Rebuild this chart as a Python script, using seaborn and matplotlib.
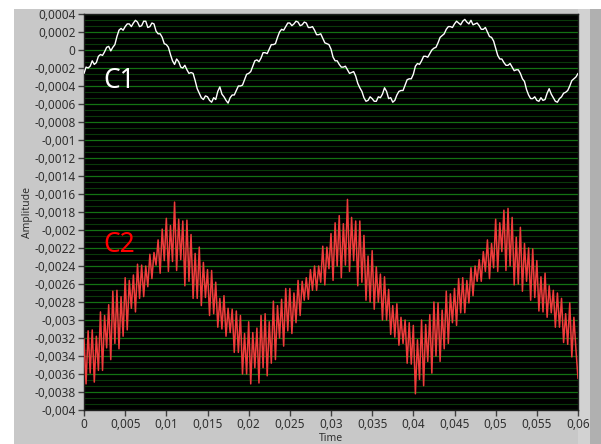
import numpy as np
import pandas as pd
import matplotlib
matplotlib.use("Agg")
import matplotlib.pyplot as plt
from matplotlib.patches import Rectangle
from matplotlib.ticker import MultipleLocator, FixedLocator
import seaborn as sns

# ---------------- data ----------------
# C1 amplitude in units of 1e-4, sampled every 0.25 ms from 0 to 60 ms
c1_e4 = [
    -2.6, -1.9, -2.0, -1.8, -1.2, -1.6, -1.4, -0.7, -0.5, -0.6, -0.2, 0.3, 0.4, -0.1, 0.3, 0.6, 1.5, 2.2, 2.4, 2.2,
    2.6, 2.9, 2.9, 2.6, 3.0, 3.3, 3.1, 2.6, 2.7, 3.2, 3.2, 2.5, 2.6, 3.0, 2.9, 2.1, 1.8, 1.8, 1.4, 0.7,
    0.6, 0.3, -0.5, -1.2, -1.6, -1.0, -1.3, -1.9, -2.0, -1.7, -2.2, -2.6, -2.5, -2.6, -3.4, -4.3, -4.8, -5.3, -5.5, -5.1,
    -5.2, -5.6, -5.8, -5.3, -5.5, -4.6, -4.1, -4.9, -5.2, -5.6, -5.9, -5.3, -5.0, -5.0, -4.5, -4.0, -4.0, -3.9, -3.3, -2.7,
    -2.6, -2.4, -1.8, -1.2, -1.1, -1.3, -0.9, -0.3, -0.3, -0.4, 0.1, 0.6, 0.6, 0.7, 1.4, 2.0, 2.3, 2.2, 2.6, 3.0,
    3.0, 2.7, 2.9, 3.2, 3.1, 2.7, 2.8, 3.1, 3.0, 2.5, 2.5, 2.6, 2.2, 1.7, 1.7, 1.8, 1.3, 0.8, 0.7, 0.6,
    0.1, -0.8, -1.2, -1.2, -1.6, -1.9, -1.9, -1.8, -2.2, -2.6, -2.5, -2.4, -2.9, -3.7, -4.2, -4.6, -5.3, -5.7, -5.6, -5.2,
    -5.4, -5.7, -5.7, -5.2, -5.3, -4.9, -4.2, -4.6, -5.4, -5.3, -5.8, -5.6, -5.0, -4.6, -4.5, -4.5, -3.9, -3.3, -3.2, -3.2,
    -2.7, -1.8, -1.5, -1.6, -1.2, -0.7, -0.7, -0.8, -0.4, 0.0, 0.2, 0.3, 0.8, 1.4, 1.6, 1.8, 2.3, 2.6, 2.6, 2.5,
    2.9, 3.2, 3.0, 2.8, 3.2, 3.4, 3.1, 2.9, 3.3, 2.8, 2.9, 3.0, 2.7, 2.3, 2.3, 2.5, 2.0, 1.5, 1.4, 1.0,
    0.2, -0.6, -1.0, -1.0, -1.4, -1.7, -1.7, -1.5, -1.9, -2.3, -2.2, -2.2, -2.6, -3.2, -3.5, -4.4, -5.0, -5.4, -5.4, -5.2,
    -5.6, -5.7, -5.3, -5.6, -5.5, -4.8, -4.3, -4.9, -5.3, -5.7, -5.8, -5.4, -5.2, -4.8, -4.7, -4.5, -4.0, -3.4, -3.2, -3.0,
    -2.6,
]

# C2 amplitude in units of 1e-4, sampled every 0.25 ms from 0 to 60 ms
c2_e4 = [
    -32.1, -37.1, -31.2, -35.9, -31.1, -36.9, -31.8, -35.6, -29.1, -35.6,
    -29.5, -33.1, -28.3, -34.4, -26.8, -32.6, -26.7, -33.2, -27.4, -31.8,
    -25.3, -31.1, -25.6, -28.7, -25.0, -29.1, -23.8, -27.6, -23.9, -27.4,
    -24.0, -26.3, -22.7, -25.4, -22.5, -23.9, -21.1, -24.8, -19.9, -23.4,
    -18.7, -24.6, -19.5, -23.5, -16.9, -24.5, -18.8, -23.3, -19.0, -26.2,
    -18.9, -25.7, -20.5, -27.6, -22.6, -27.6, -21.9, -28.4, -23.6, -27.5,
    -24.4, -29.5, -24.5, -29.3, -25.8, -30.8, -27.6, -31.0, -27.3, -31.8,
    -28.7, -31.4, -28.8, -33.6, -29.0, -33.6, -29.5, -36.0, -31.5, -36.0,
    -30.2, -37.1, -31.4, -35.3, -30.9, -37.0, -29.5, -35.3, -29.3, -36.2,
    -30.2, -34.8, -27.9, -34.4, -28.4, -32.0, -27.7, -32.9, -26.5, -31.2,
    -26.5, -31.5, -27.0, -30.3, -25.6, -29.5, -25.7, -27.8, -25.3, -27.7,
    -24.4, -26.7, -24.0, -26.7, -24.0, -25.8, -21.8, -26.1, -21.9, -24.3,
    -20.4, -25.6, -19.2, -24.0, -18.4, -25.3, -19.3, -23.9, -16.6, -24.6,
    -18.6, -23.4, -19.0, -26.2, -19.0, -25.8, -20.6, -27.8, -22.9, -28.0,
    -22.3, -28.8, -24.1, -28.0, -24.9, -30.0, -25.2, -30.0, -26.6, -31.6,
    -28.4, -31.9, -28.2, -32.8, -29.7, -32.6, -30.0, -34.8, -30.3, -34.9,
    -30.6, -38.2, -32.2, -36.6, -30.0, -37.3, -30.5, -34.6, -29.4, -35.9,
    -28.0, -34.0, -28.1, -34.6, -28.9, -33.2, -26.8, -32.6, -27.1, -30.3,
    -26.5, -30.6, -25.4, -29.2, -25.3, -29.2, -25.6, -28.1, -24.2, -27.3,
    -24.0, -25.7, -23.3, -25.7, -22.4, -24.6, -21.1, -25.4, -21.5, -24.2,
    -18.8, -24.6, -19.2, -22.4, -17.8, -24.5, -17.6, -24.0, -18.6, -26.1,
    -20.8, -26.0, -19.7, -26.8, -21.5, -25.7, -22.0, -27.8, -22.1, -27.5,
    -23.4, -29.0, -25.2, -29.1, -24.8, -29.7, -26.2, -29.2, -26.7, -30.8,
    -27.0, -30.8, -27.6, -32.5, -29.3, -32.7, -28.1, -34.1, -29.7, -33.3,
    -36.5,
]

t_end = 0.06
x_ticks = [0, 0.005, 0.01, 0.015, 0.02, 0.025, 0.03, 0.035, 0.04, 0.045, 0.05, 0.055, 0.06]
x_labels = ["0", "0,005", "0,01", "0,015", "0,02", "0,025", "0,03", "0,035",
            "0,04", "0,045", "0,05", "0,055", "0,06"]
y_ticks = [0.0004, 0.0002, 0, -0.0002, -0.0004, -0.0006, -0.0008, -0.001, -0.0012,
           -0.0014, -0.0016, -0.0018, -0.002, -0.0022, -0.0024, -0.0026, -0.0028,
           -0.003, -0.0032, -0.0034, -0.0036, -0.0038, -0.004]
y_labels = ["0,0004", "0,0002", "0", "-0,0002", "-0,0004", "-0,0006", "-0,0008", "-0,001",
            "-0,0012", "-0,0014", "-0,0016", "-0,0018", "-0,002", "-0,0022", "-0,0024",
            "-0,0026", "-0,0028", "-0,003", "-0,0032", "-0,0034", "-0,0036", "-0,0038", "-0,004"]

c1 = np.array(c1_e4) * 1e-4
c2 = np.array(c2_e4) * 1e-4
t1 = np.linspace(0, t_end, len(c1))
t2 = np.linspace(0, t_end, len(c2))
df1 = pd.DataFrame({"Time": t1, "Amplitude": c1})
df2 = pd.DataFrame({"Time": t2, "Amplitude": c2})

# ---------------- style ----------------
sns.set_theme(style="dark")
plt.rcParams["font.family"] = ["Noto Sans", "DejaVu Sans"]

W, H = 601, 444
fig = plt.figure(figsize=(W / 100, H / 100), dpi=100)
fig.patch.set_facecolor("white")

# LabVIEW-like gray panel (behind the axes)
for (x0, x1, col) in [(14, 590, "#c8c8c8"), (578, 590, "#d2d2d2"), (590, 601, "#b0b0b0")]:
    fig.patches.append(Rectangle((x0 / W, 0), (x1 - x0) / W, (H - 9) / H,
                                 transform=fig.transFigure, facecolor=col,
                                 edgecolor="none", zorder=-10))

ax = fig.add_axes([84 / W, (H - 410) / H, 494 / W, 396 / H])
ax.set_zorder(5)
ax.set_facecolor("black")

sns.lineplot(data=df2, x="Time", y="Amplitude", color="#f03c3c", lw=1.1,
             ax=ax, sort=False, estimator=None, zorder=3)
sns.lineplot(data=df1, x="Time", y="Amplitude", color="white", lw=1.0,
             ax=ax, sort=False, estimator=None, zorder=4)

ax.set_xlim(0, t_end)
ax.set_ylim(-0.004, 0.0004)

ax.xaxis.set_major_locator(FixedLocator(x_ticks))
ax.set_xticklabels(x_labels)
ax.yaxis.set_major_locator(FixedLocator(y_ticks))
ax.set_yticklabels(y_labels)
ax.yaxis.set_minor_locator(MultipleLocator(0.0002 / 3))

ax.grid(False)
ax.grid(axis="y", which="major", color="#137213", lw=0.9)
ax.grid(axis="y", which="minor", color="#0a3a0a", lw=0.8)
ax.set_axisbelow(True)

ax.tick_params(axis="both", which="major", direction="out", length=4, width=1,
               color="#404040", labelsize=8.5, labelcolor="#303030", pad=2,
               bottom=True, left=True)
ax.tick_params(axis="both", which="minor", length=0)

for s in ax.spines.values():
    s.set_color("#202020")
    s.set_linewidth(1)

ax.set_xlabel("Time", fontsize=7.5, color="#303030", labelpad=1)
ax.set_ylabel("Amplitude", fontsize=7.5, color="#303030", labelpad=1)

ax.text(0.0043, -0.000344, "C1", color="white", fontsize=19, ha="center", va="center", zorder=5)
ax.text(0.00425, -0.00217, "C2", color="#ff0000", fontsize=19, ha="center", va="center", zorder=5)

fig.savefig("out.png", dpi=100, facecolor=fig.get_facecolor())
